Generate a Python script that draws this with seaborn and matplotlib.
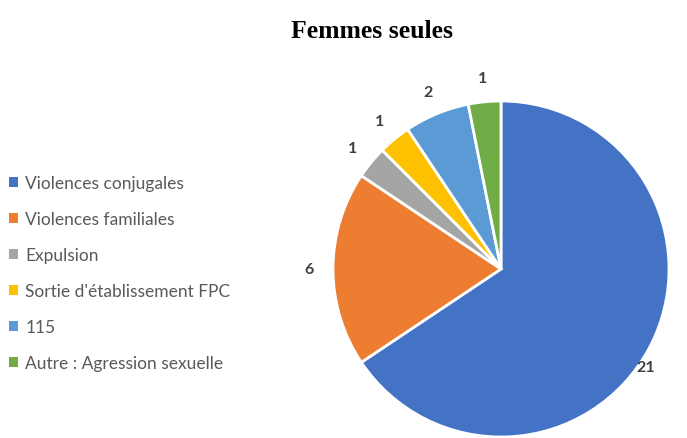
import numpy as np
import matplotlib
matplotlib.use("Agg")
import matplotlib.pyplot as plt
import seaborn as sns

categories = ["Violences conjugales", "Violences familiales", "Expulsion",
              "Sortie d'établissement FPC", "115", "Autre : Agression sexuelle"]
values = [21, 6, 1, 1, 2, 1]
colors = ["#4472C4", "#ED7D31", "#A5A5A5", "#FFC000", "#5B9BD5", "#70AD47"]
title = "Femmes seules"

sns.set_theme(style="white")
plt.rcParams['font.family'] = ['Lato', 'DejaVu Sans']

W, H = 687, 439
fig = plt.figure(figsize=(W / 100, H / 100), dpi=100)
cx, cy, r = 501, 270, 168
ax = fig.add_axes([(cx - r) / W, (H - cy - r) / H, 2 * r / W, 2 * r / H])

pal = sns.color_palette(colors)
wedges, texts = ax.pie(values, labels=[str(v) for v in values], colors=pal,
                       startangle=90, counterclock=False, radius=1,
                       labeldistance=1.14,
                       wedgeprops=dict(edgecolor="white", linewidth=2),
                       textprops=dict(fontsize=11.5, fontweight="bold", color="#404040"))
ax.set_xlim(-1, 1)
ax.set_ylim(-1, 1)
ax.set_aspect("auto")
ax.axis("off")
for w in wedges:
    w.set_clip_on(False)
for t in texts:
    t.set_ha("center")
    t.set_va("center")
    t.set_clip_on(False)
# first label sits closer to the edge, like the original
ang = np.deg2rad(-34)
texts[0].set_position((1.04 * np.cos(ang), 1.04 * np.sin(ang)))

fig.text(372 / W, 1 - 31 / H, title, ha="center", va="center",
         fontsize=18.5, fontweight="bold", family=["Liberation Serif"], color="black")

leg = fig.legend(wedges, categories, loc="upper left",
                 bbox_to_anchor=(2 / W, 1 - 169 / H), frameon=False,
                 fontsize=12.5, labelcolor="#595959", handlelength=0.5,
                 handleheight=0.5, handletextpad=0.45, labelspacing=1.15,
                 borderaxespad=0)
for h in leg.legend_handles:
    h.set_edgecolor("none")

fig.savefig("out.png", dpi=100)
